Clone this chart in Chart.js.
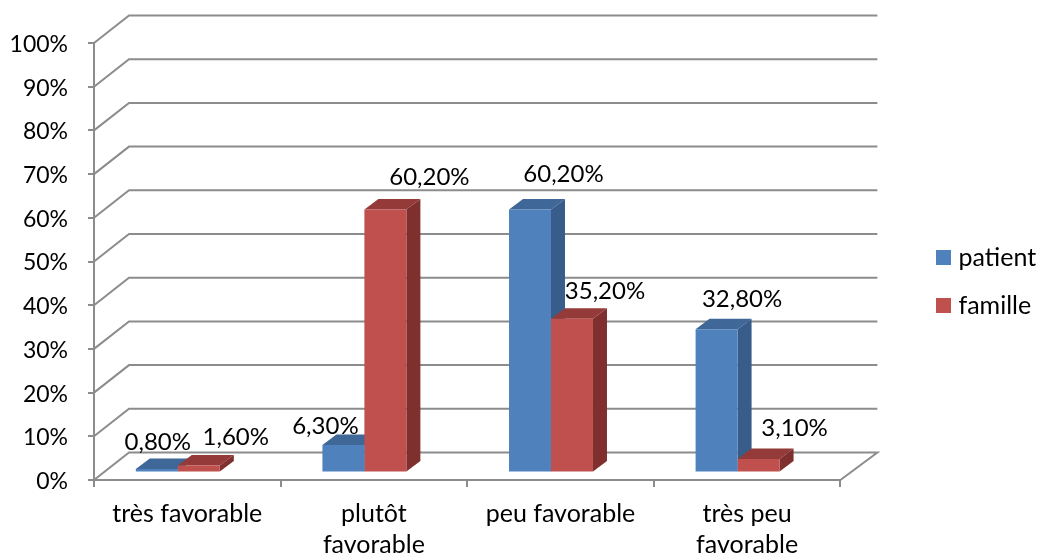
<!DOCTYPE html>
<html><head><meta charset="utf-8">
<style>html,body{margin:0;padding:0;background:#fff}#w{width:1040px;height:556px}</style>
<script src="https://cdn.jsdelivr.net/npm/chart.js@4"></script>
</head><body><div id="w"><canvas id="c"></canvas></div>
<script>
const categories = ["très favorable", ["plutôt","favorable"], "peu favorable", ["très peu","favorable"]];
const patient = [0.8, 6.3, 60.2, 32.8];
const famille = [1.6, 60.2, 35.2, 3.1];

const FONT = 'Lato';
const GRID = '#8c8c8c';
const wall = {dx: 35, dy: -27.5, dxRight: 37};
const depth = {dx: 14, dy: -10.5};
const shift = {x: -9.5, y: -7.5};
const fronts = ['#4f81bd', '#c0504d'];
const shades = [{top:'#3f6797', side:'#385d8a'}, {top:'#943b39', side:'#7f2f2d'}];
const labelNudge = [
  [[1,-27],[-18,-19],[33.5,-35],[25.5,-30]],
  [[37,-28],[44,-32],[33,-27],[36,-30.5]]
];

function swatch(color){
  const k = document.createElement('canvas');
  k.width = 15; k.height = 15;
  const g = k.getContext('2d');
  g.fillStyle = color; g.fillRect(0,0,15,15);
  return k;
}
const swatches = fronts.map(swatch);

const wallPlugin = {
  id: 'wall',
  afterLayout(chart){
    const lg = chart.legend;
    lg.left = 941 - lg.options.labels.padding;
    lg.top -= 18; lg.bottom -= 18;
  },
  beforeDatasetsDraw(chart){
    const {ctx, scales:{x, y}} = chart;
    ctx.save();
    ctx.strokeStyle = GRID; ctx.lineWidth = 2; ctx.lineJoin = 'miter';
    y.ticks.forEach(t => {
      const py = y.getPixelForValue(t.value);
      ctx.beginPath();
      ctx.moveTo(x.left, py);
      ctx.lineTo(x.left + wall.dx, py + wall.dy);
      ctx.lineTo(x.right + wall.dxRight, py + wall.dy);
      if (t.value === 0) ctx.lineTo(x.right, py);
      ctx.stroke();
    });
    ctx.translate(shift.x, shift.y);
    chart.data.datasets.forEach((d, i) => {
      const s = shades[i];
      chart.getDatasetMeta(i).data.forEach(b => {
        const l = b.x - b.width/2, r = b.x + b.width/2, t = b.y, base = b.base;
        ctx.fillStyle = s.top;
        ctx.beginPath();
        ctx.moveTo(l,t); ctx.lineTo(l+depth.dx,t+depth.dy); ctx.lineTo(r+depth.dx,t+depth.dy); ctx.lineTo(r,t);
        ctx.closePath(); ctx.fill();
        ctx.fillStyle = s.side;
        ctx.beginPath();
        ctx.moveTo(r,t); ctx.lineTo(r+depth.dx,t+depth.dy); ctx.lineTo(r+depth.dx,base+depth.dy); ctx.lineTo(r,base);
        ctx.closePath(); ctx.fill();
      });
    });
    ctx.restore();
  },
  beforeDatasetDraw(chart){
    chart.ctx.save();
    chart.ctx.translate(shift.x, shift.y);
  },
  afterDatasetDraw(chart){ chart.ctx.restore(); },
  afterDatasetsDraw(chart){
    const {ctx} = chart;
    ctx.save();
    ctx.font = '24px ' + FONT; ctx.fillStyle = '#000';
    ctx.textAlign = 'center'; ctx.textBaseline = 'middle';
    chart.data.datasets.forEach((d, i) => {
      chart.getDatasetMeta(i).data.forEach((b, j) => {
        const txt = d.data[j].toFixed(2).replace('.', ',') + '%';
        const n = labelNudge[i][j];
        ctx.fillText(txt, b.x + shift.x + n[0], b.y + shift.y + n[1]);
      });
    });
    ctx.restore();
  }
};

new Chart(document.getElementById('c'), {
  type: 'bar',
  data: {
    labels: categories,
    datasets: [
      {label:'patient', data: patient, backgroundColor:fronts[0], clip:false},
      {label:'famille', data: famille, backgroundColor:fronts[1], clip:false}
    ]
  },
  plugins: [wallPlugin],
  options: {
    responsive: true, maintainAspectRatio: false, animation: false,
    devicePixelRatio: 1,
    layout: {padding: {top: 43, left: 0, right: 0, bottom: 0}},
    datasets: {bar: {categoryPercentage: 0.45, barPercentage: 1}},
    plugins: {
      tooltip: {enabled:false},
      legend: {
        position:'right',
        labels: {
          usePointStyle:true, pointStyleWidth:5, padding:23, color:'#000', font:{family:FONT, size:25},
          generateLabels(chart){
            return chart.data.datasets.map((d,i)=>({text:d.label, datasetIndex:i, fontColor:'#000', pointStyle:swatches[i], hidden:false, lineWidth:0}));
          }
        }
      }
    },
    scales: {
      x: {
        grid: {drawOnChartArea:false, drawTicks:true, tickLength:7, color:GRID, lineWidth:2, offset:true},
        border: {color:GRID, width:2},
        ticks: {color:'#000', font:{family:FONT, size:25, lineHeight:1.25}, padding:11, maxRotation:0, autoSkip:false},
        afterFit(s){ s.height = 76; }
      },
      y: {
        min:0, max:100,
        grid: {drawOnChartArea:false, drawTicks:true, tickLength:6, color:GRID, lineWidth:2},
        border: {color:GRID, width:2},
        ticks: {stepSize:10, color:'#000', font:{family:FONT, size:23}, padding:20, labelOffset:1.5, callback:v=>v+'%'},
        afterFit(s){ s.width = 94; }
      },
      gap: {
        position:'right', display:true,
        grid:{display:false}, border:{display:false}, ticks:{display:false},
        afterFit(s){ s.width = 71.5; }
      }
    }
  }
});
</script></body></html>
